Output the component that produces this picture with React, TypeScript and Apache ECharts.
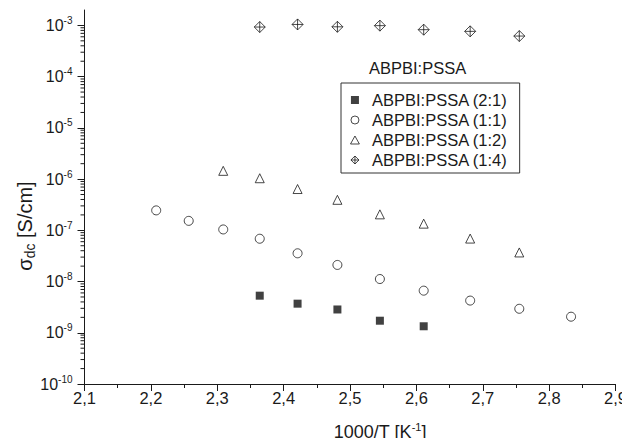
import { useEffect, useRef } from 'react';
import * as echarts from 'echarts';

// 1000/T values [K^-1] and conductivities [S/cm]
const invT21 = [2.364, 2.421, 2.481, 2.545, 2.611];
const sigma21 = [5.3e-9, 3.7e-9, 2.85e-9, 1.72e-9, 1.34e-9];

const invT11 = [2.208, 2.257, 2.309, 2.364, 2.421, 2.481, 2.545, 2.611, 2.681, 2.755, 2.833];
const sigma11 = [2.45e-7, 1.53e-7, 1.04e-7, 6.85e-8, 3.56e-8, 2.11e-8, 1.12e-8, 6.64e-9, 4.25e-9, 2.94e-9, 2.06e-9];

const invT12 = [2.309, 2.364, 2.421, 2.481, 2.545, 2.611, 2.681, 2.755];
const sigma12 = [1.45e-6, 1.04e-6, 6.4e-7, 3.94e-7, 2.05e-7, 1.35e-7, 6.9e-8, 3.7e-8];

const invT14 = [2.364, 2.421, 2.481, 2.545, 2.611, 2.681, 2.755];
const sigma14 = [9.3e-4, 1.045e-3, 9.4e-4, 9.9e-4, 8.26e-4, 7.66e-4, 6.2e-4];

const seriesNames = ['ABPBI:PSSA (2:1)', 'ABPBI:PSSA (1:1)', 'ABPBI:PSSA (1:2)', 'ABPBI:PSSA (1:4)'];
const legendTitle = 'ABPBI:PSSA';

const xMin = 2.1;
const xMax = 2.9;
const xStep = 0.1;
const yMin = 1e-10;
const yMax = 2e-3;
const yDecadeExponents = [-10, -9, -8, -7, -6, -5, -4];
const yMinorMultipliers = [2, 3, 4, 5, 6, 7, 8, 9];

const FONT = '"Liberation Sans", Arial, Helvetica, sans-serif';
const INK = '#1a1a1a';

const squareIcon = 'path://M0,0L10,0L10,10L0,10Z';
const circleIcon = 'path://M5,0A5,5 0 1 1 5,10A5,5 0 1 1 5,0Z';
const triangleIcon = 'path://M5,0L10,9L0,9Z';
const diamondCross = 'path://M0,-5L5,0L0,5L-5,0Z M0,-5L0,5 M-5,0L5,0';

function zip(xs: number[], ys: number[]) {
  return xs.map((x, i) => [x, ys[i]]);
}

export default function App() {
  const ref = useRef<HTMLDivElement>(null);
  useEffect(() => {
    if (!ref.current) return;
    const chart = echarts.init(ref.current, undefined, { renderer: 'svg' });
    const hollow = { color: '#fff', borderColor: INK, borderWidth: 1 };
    const solid = { color: '#111', borderColor: '#111', borderWidth: 0 };
    const yMinorTicks: number[] = [];
    yDecadeExponents.forEach((e) => yMinorMultipliers.forEach((k) => yMinorTicks.push(k * Math.pow(10, e))));

    chart.setOption({
      animation: false,
      backgroundColor: '#fff',
      textStyle: { fontFamily: FONT },
      title: {
        text: legendTitle,
        left: 369,
        top: 59,
        padding: 0,
        textStyle: { fontSize: 16.5, fontWeight: 'normal', color: INK, fontFamily: FONT },
      },
      legend: {
        left: 341,
        top: 83,
        orient: 'vertical',
        borderColor: '#333',
        borderWidth: 1,
        padding: [7, 12, 3, 9],
        itemGap: 0,
        itemWidth: 24,
        itemHeight: 8,
        symbolKeepAspect: true,
        textStyle: { fontSize: 16.5, color: INK, fontFamily: FONT, lineHeight: 20 },
        data: [
          { name: seriesNames[0], icon: squareIcon, itemStyle: solid },
          { name: seriesNames[1], icon: circleIcon, itemStyle: hollow },
          { name: seriesNames[2], icon: triangleIcon, itemStyle: hollow },
          { name: seriesNames[3], icon: diamondCross, itemStyle: hollow },
        ],
      },
      grid: { left: 84.5, right: 13, top: 10, bottom: 60, containLabel: false },
      xAxis: {
        type: 'value',
        min: xMin,
        max: xMax,
        interval: xStep,
        name: '{a|1000/T [K}{s|-1}{a|]}',
        nameLocation: 'middle',
        nameGap: 37,
        nameTextStyle: {
          padding: [0, 0, 0, 60],
          rich: {
            a: { fontSize: 18, color: INK, fontFamily: FONT, lineHeight: 22 },
            s: { fontSize: 11, color: INK, fontFamily: FONT, lineHeight: 12, verticalAlign: 'top' },
          },
        },
        axisLine: { lineStyle: { color: INK, width: 1 } },
        axisTick: { length: 7, lineStyle: { color: INK } },
        minorTick: { show: true, splitNumber: 2, length: 4, lineStyle: { color: INK } },
        splitLine: { show: false },
        axisLabel: {
          fontSize: 16.5,
          color: INK,
          fontFamily: FONT,
          margin: 5,
          formatter: (v: number) => v.toFixed(1).replace('.', ','),
        },
      },
      yAxis: {
        type: 'log',
        logBase: 10,
        min: yMin,
        max: yMax,
        axisLine: { show: true, lineStyle: { color: INK, width: 1 } },
        axisTick: { show: true, length: 7, lineStyle: { color: INK } },
        splitLine: { show: false },
        axisLabel: {
          showMaxLabel: false,
          margin: 12,
          formatter: (v: number) => {
            const e = Math.round(Math.log10(v));
            if (Math.abs(v - Math.pow(10, e)) / Math.pow(10, e) > 1e-6) return '';
            return `{b|10}{s|${e}}`;
          },
          rich: {
            b: { fontSize: 16, color: INK, fontFamily: FONT, lineHeight: 20 },
            s: { fontSize: 10, color: INK, fontFamily: FONT, lineHeight: 11, verticalAlign: 'top' },
          },
        },
      },
      graphic: [
        {
          type: 'text',
          x: 25,
          y: 226,
          rotation: Math.PI / 2,
          style: {
            text: '{a|σ}{b|dc}{a| [S/cm]}',
            align: 'center',
            verticalAlign: 'middle',
            rich: {
              a: { fontSize: 20, fill: INK, fontFamily: FONT, lineHeight: 24 },
              b: { fontSize: 14, fill: INK, fontFamily: FONT, lineHeight: 14, verticalAlign: 'bottom' },
            },
          },
        },
      ],
      series: [
        {
          name: seriesNames[0],
          type: 'scatter',
          symbol: 'rect',
          symbolSize: 8,
          itemStyle: solid,
          data: zip(invT21, sigma21),
        },
        {
          name: seriesNames[1],
          type: 'scatter',
          symbol: 'circle',
          symbolSize: 9,
          itemStyle: hollow,
          data: zip(invT11, sigma11),
        },
        {
          name: seriesNames[2],
          type: 'scatter',
          symbol: 'triangle',
          symbolSize: 9,
          itemStyle: hollow,
          data: zip(invT12, sigma12),
        },
        {
          name: seriesNames[3],
          type: 'scatter',
          symbol: diamondCross,
          symbolSize: 11,
          itemStyle: hollow,
          data: zip(invT14, sigma14),
        },
        {
          name: 'yMinorTicks',
          type: 'custom',
          silent: true,
          clip: false,
          data: yMinorTicks.map((v) => [xMin, v]),
          renderItem: (_params: any, api: any) => {
            const p = api.coord([api.value(0), api.value(1)]);
            return {
              type: 'line',
              shape: { x1: p[0] - 4, y1: p[1], x2: p[0], y2: p[1] },
              style: { stroke: INK, lineWidth: 1 },
            };
          },
        },
      ],
    });
    return () => chart.dispose();
  }, []);
  return <div ref={ref} style={{ width: 630, height: 446, margin: -8 }} />;
}
